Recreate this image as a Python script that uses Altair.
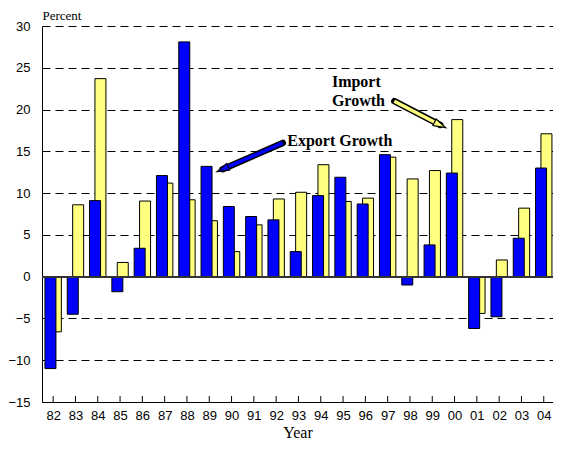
import altair as alt
import pandas as pd

years = ['82', '83', '84', '85', '86', '87', '88', '89', '90', '91', '92', '93',
         '94', '95', '96', '97', '98', '99', '00', '01', '02', '03', '04']
export_growth = [-11.0, -4.5, 9.1, -1.8, 3.4, 12.1, 28.1, 13.2, 8.4, 7.2, 6.8, 3.0,
                 9.7, 11.9, 8.7, 14.6, -1.0, 3.8, 12.4, -6.2, -4.8, 4.6, 13.0]
import_growth = [-6.6, 8.6, 23.7, 1.7, 9.05, 11.2, 9.2, 6.7, 3.0, 6.2, 9.3, 10.1,
                 13.4, 9.0, 9.4, 14.3, 11.7, 12.7, 18.8, -4.4, 2.0, 8.2, 17.1]
y_ticks = [-15, -10, -5, 0, 5, 10, 15, 20, 25, 30]

# annotation positions in data units (x = year index, y = percent)
export_label = {"x": 10.5, "y": 16.25, "text": "Export Growth"}
import_label_x = [12.5, 12.5]
import_label_y = [23.3, 21.0]
import_label_text = ["Import", "Growth"]
export_arrow_x = [10.3, 7.60]
export_arrow_y = [16.0, 12.86]
import_arrow_x = [15.3, 17.35]
import_arrow_y = [21.0, 18.16]

W, H = 511, 376
band_px = 22.3
x_dom = [-0.5, -0.5 + W / band_px]
xs = alt.Scale(domain=x_dom, nice=False, zero=False, padding=0)
ys = alt.Scale(domain=[-15, 30], nice=False, padding=0)

df = pd.DataFrame({"i": list(range(len(years))), "year": years,
                   "exp": export_growth, "imp": import_growth})

label_expr = "[" + ",".join("'%s'" % y for y in years) + "][datum.value]"

x_axis = alt.Axis(values=list(range(len(years))), labelExpr=label_expr, ticks=False,
                  grid=False, domainColor="black", labelPadding=7, labelFontSize=13,
                  labelFont="Liberation Sans", labelColor="black", labelFlush=False,
                  labelOverlap=False, labelBound=False, title="Year",
                  titleFont="Liberation Serif", titleFontSize=16,
                  titleFontWeight="normal", titleBaseline="alphabetic", titleY=35,
                  titleColor="black")
y_axis = alt.Axis(values=y_ticks, ticks=False, domainColor="black", labelPadding=12,
                  labelFontSize=13, labelFont="Liberation Sans", labelColor="black",
                  grid=True, gridDash=[8, 5], gridColor="black", gridWidth=1,
                  gridOpacity=1, title="Percent", titleAngle=0, titleX=0, titleY=-7,
                  titleAlign="left", titleBaseline="alphabetic",
                  titleFont="Liberation Serif", titleFontSize=13,
                  titleFontWeight="normal", titleColor="black")

base = alt.Chart(df)

imp_bars = base.mark_bar(size=11, xOffset=2.7, color="#FFFF80", stroke="black",
                         strokeWidth=1).encode(
    x=alt.X("i:Q", scale=xs, axis=x_axis),
    y=alt.Y("imp:Q", scale=ys, axis=y_axis),
    y2=alt.datum(0))

exp_bars = base.mark_bar(size=11, xOffset=-2.7, color="#0000FF", stroke="black",
                         strokeWidth=1).encode(
    x=alt.X("i:Q", scale=xs, axis=x_axis),
    y=alt.Y("exp:Q", scale=ys, axis=y_axis),
    y2=alt.datum(0))

zero = base.mark_rule(color="#333333", strokeWidth=1.5).encode(
    y=alt.datum(0, scale=ys))

ticks = base.mark_rule(color="black", strokeWidth=1).encode(
    x=alt.X("i:Q", scale=xs, axis=x_axis), y=alt.value(H), y2=alt.value(H - 6))

head_shape = "M0,-1L0.6,1L-0.6,1Z"


def arrow(xv, yv, color, angle):
    d = pd.DataFrame({"x": xv, "y": yv, "k": [0, 1]})
    c = alt.Chart(d)
    outline = c.mark_line(color="black", strokeWidth=6.5, strokeCap="round").encode(
        x=alt.X("x:Q", scale=xs, axis=x_axis), y=alt.Y("y:Q", scale=ys, axis=y_axis),
        order="k:Q")
    inner = c.mark_line(color=color, strokeWidth=3.5, strokeCap="butt").encode(
        x=alt.X("x:Q", scale=xs, axis=x_axis), y=alt.Y("y:Q", scale=ys, axis=y_axis),
        order="k:Q")
    head = c.transform_filter("datum.k == 1").mark_point(
        shape=head_shape, size=150, filled=True, fill=color, stroke="black",
        strokeWidth=1.2, opacity=1, angle=angle).encode(
        x=alt.X("x:Q", scale=xs, axis=x_axis), y=alt.Y("y:Q", scale=ys, axis=y_axis))
    return outline + inner + head


exp_arrow = arrow(export_arrow_x, export_arrow_y, "#0000FF", 246)
imp_arrow = arrow(import_arrow_x, import_arrow_y, "#FFFF80", 116)

exp_text = alt.Chart(pd.DataFrame([export_label])).mark_text(
    align="left", baseline="middle", font="Liberation Serif", fontWeight="bold",
    fontSize=16, color="black").encode(
    x=alt.X("x:Q", scale=xs, axis=x_axis), y=alt.Y("y:Q", scale=ys, axis=y_axis),
    text="text:N")

imp_text = alt.Chart(pd.DataFrame({"x": import_label_x, "y": import_label_y,
                                   "text": import_label_text})).mark_text(
    align="left", baseline="middle", font="Liberation Serif", fontWeight="bold",
    fontSize=16, color="black").encode(
    x=alt.X("x:Q", scale=xs, axis=x_axis), y=alt.Y("y:Q", scale=ys, axis=y_axis),
    text="text:N")

chart = alt.layer(imp_bars, exp_bars, zero, ticks, exp_arrow, imp_arrow,
                  exp_text, imp_text).properties(
    width=W, height=H,
    autosize=alt.AutoSizeParams(type="none"),
    padding={"left": 34, "top": 18, "right": 0, "bottom": 40},
    background="white",
).configure_view(stroke=None).configure_axisX(
    labelOverlap=False, labelFlush=False
).configure_scale(continuousPadding=0)

chart.save("out.html", embed_options={"renderer": "svg", "actions": False})
